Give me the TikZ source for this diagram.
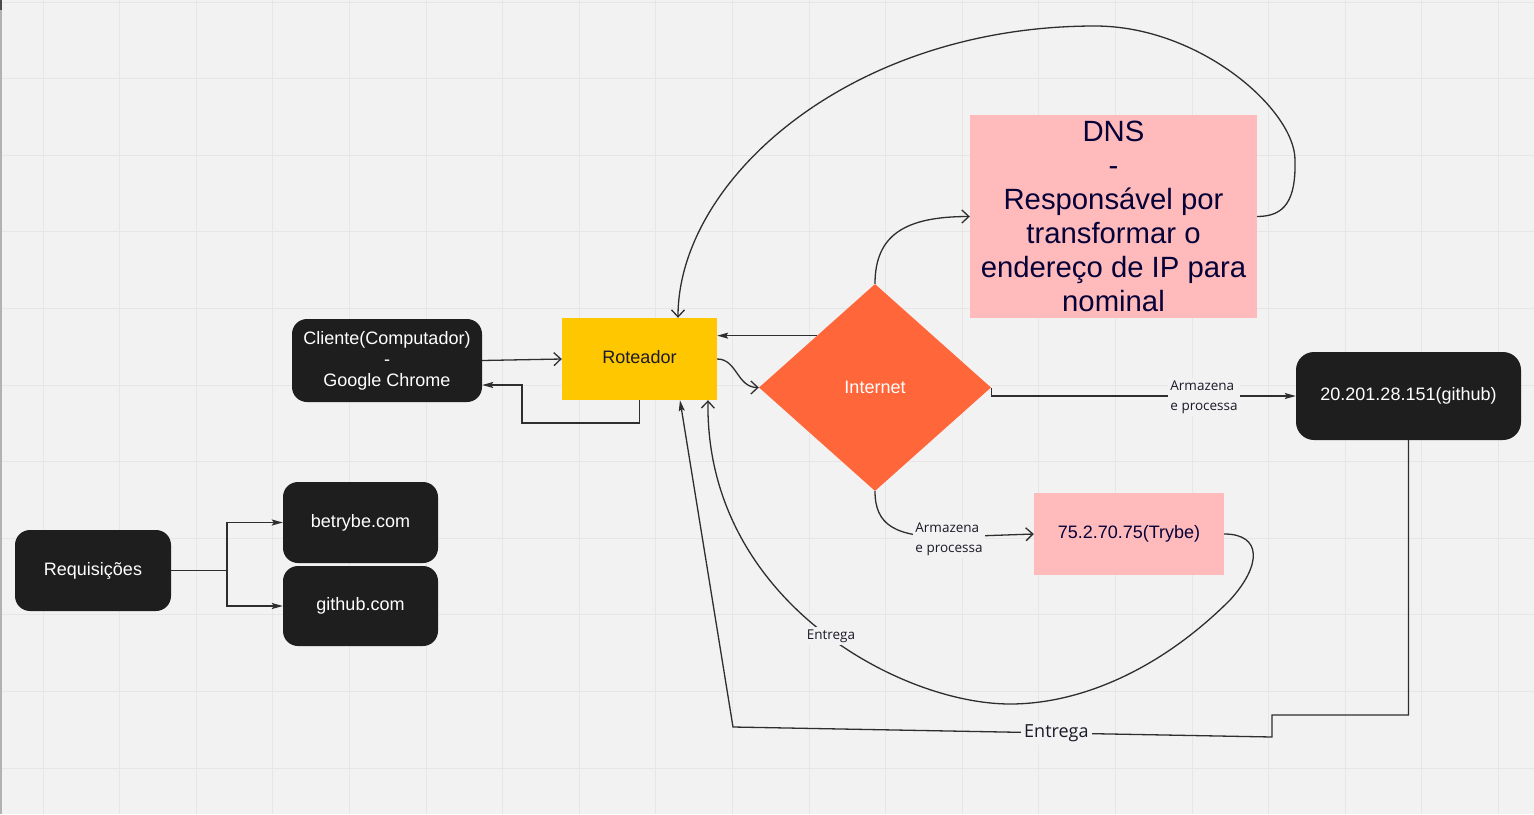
\documentclass[tikz,border=0pt]{standalone}
\usepackage{fontspec}
\setmainfont{Liberation Sans}
\newfontfamily\osans{Open Sans}
\usetikzlibrary{shapes.geometric,arrows.meta}
\definecolor{bgc}{HTML}{F2F2F2}
\definecolor{gridc}{HTML}{E6E6E6}
\definecolor{darkc}{HTML}{1E1E1E}
\definecolor{edgec}{HTML}{2E2E2E}
\definecolor{yellowc}{HTML}{FFC700}
\definecolor{orangec}{HTML}{FF663A}
\definecolor{pinkc}{HTML}{FFBBBB}
\definecolor{navyc}{HTML}{050038}
\definecolor{labelc}{HTML}{1A1A2A}
\tikzset{
  darknode/.style={rectangle, rounded corners=15pt, fill=darkc, text=white, align=center, inner sep=0pt, font=\fontsize{18}{21}\selectfont},
  pinknode/.style={rectangle, fill=pinkc, text=navyc, align=center, inner sep=0pt},
  con/.style={draw=edgec, line width=1.3pt},
  opentip/.style={-{Straight Barb[length=7pt,width=13pt]}},
  filltip/.style={-{Stealth[length=11pt,width=6pt,inset=2pt]}},
  lblsmall/.style={fill=bgc, inner sep=2.5pt, text=labelc, align=left, font=\osans\fontsize{13.5}{20}\selectfont},
  lblbig/.style={fill=bgc, inner sep=3pt, text=labelc, font=\osans\fontsize{18}{21}\selectfont},
}
\begin{document}
\begin{tikzpicture}[x=1pt,y=-1pt]
\useasboundingbox (0,0) rectangle (1534,814);
\fill[bgc] (0,0) rectangle (1534,814);
\foreach \k in {0,...,19} \draw[gridc, line width=1pt] ({43+76.6*\k},0) -- ({43+76.6*\k},814);
\foreach \k in {0,...,10} \draw[gridc, line width=1pt] (0,{2+76.6*\k}) -- (1534,{2+76.6*\k});
\fill[gray!60] (0,0) rectangle (2,814);
\fill[darkc!80] (0,0) rectangle (2,10);

% nodes
\node[darknode, minimum width=190pt, minimum height=83pt] (cli) at (387,360.5) {Cliente(Computador)\\-\\Google Chrome};
\node[rectangle, fill=yellowc, minimum width=155pt, minimum height=82pt] (rot) at (639.5,359) {};
\node[text=labelc, inner sep=0pt, font=\fontsize{18}{21}\selectfont] (rottxt) at (639.5,357.5) {Roteador};
\node[diamond, fill=orangec, text=white, inner sep=0pt, aspect=1.12, minimum width=232pt, minimum height=207pt, font=\fontsize{18}{21}\selectfont] (int) at (875,387.5) {Internet};
\node[pinknode, minimum width=287pt, minimum height=203pt, font=\fontsize{29.3}{34}\selectfont] (dns) at (1113.5,216.5) {DNS\\-\\Responsável por\\transformar o\\endereço de IP para\\nominal};
\node[darknode, rounded corners=18pt, minimum width=225pt, minimum height=88pt] (ghip) at (1408.5,396) {20.201.28.151(github)};
\node[pinknode, minimum width=190pt, minimum height=82pt, font=\fontsize{18}{21}\selectfont] (try) at (1129,534) {75.2.70.75(Trybe)};
\node[darknode, minimum width=156pt, minimum height=81pt] (req) at (93,570.5) {Requisições};
\node[darknode, minimum width=155pt, minimum height=81pt] (bet) at (360.5,522.5) {betrybe.com};
\node[darknode, minimum width=155pt, minimum height=80pt] (gh) at (360.5,606) {github.com};

% connectors
\draw[con, opentip] (cli.east) -- (rot.west);
\draw[con, filltip] (rot.south) -- (639.5,423) -- (522,423) -- (522,385) -- (cli.east |- 0,385);
\draw[con, filltip] (int.north west) -- (int.north west -| rot.east);
\draw[con, opentip] (rot.east) .. controls (737,359) and (737,387.5) .. (int.west);
\draw[con, opentip] (int.north) .. controls (875,235) and (905,216.5) .. (dns.west);
\draw[con, opentip] (dns.east) .. controls (1285,216.5) and (1296,200) .. (1295,160)
   .. controls (1295,110) and (1200,26) .. (1095,26)
   .. controls (850,26) and (678,180) .. ([xshift=38.5pt]rot.north);
\draw[con, filltip] (int.east) |- (ghip.west);
\node[lblsmall] (lab1) at (1204,397) {Armazena\\e processa};
\draw[con, opentip] (int.south) .. controls (875,525) and (895,537) .. (948,537) -- (try.west);
\node[lblsmall] (lab2) at (949,539) {Armazena\\e processa};
\draw[con, opentip] (try.east) .. controls (1262,534) and (1262,565) .. (1230,600)
   .. controls (1160,670) and (1080,704) .. (1010,704)
   .. controls (900,704) and (705,600) .. ([xshift=68.5pt]rot.south);
\node[lblsmall] (lab3) at (831,636) {Entrega};
\draw[con, filltip] (ghip.south) -- (1408.5,715) -- (1272,715) -- (1272,737)
   -- node[pos=0.4, lblbig] (lab4) {Entrega} (733,727) -- ([xshift=40.5pt]rot.south);
\draw[con, filltip] (req.east) -- (227,570.5) |- (bet.west);
\draw[con, filltip] (req.east) -- (227,570.5) |- (gh.west);
\end{tikzpicture}
\end{document}
